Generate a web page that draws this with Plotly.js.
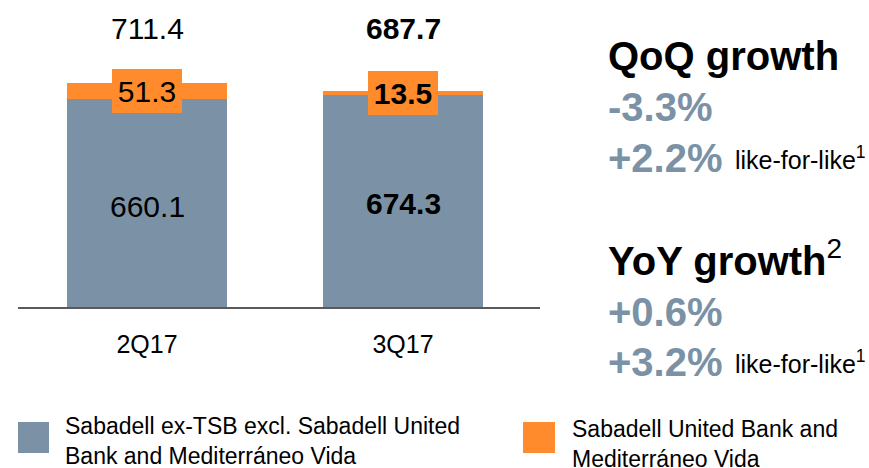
<!DOCTYPE html>
<html>
<head>
<meta charset="utf-8">
<script src="https://cdn.plot.ly/plotly-3.0.1.min.js"></script>
<style>html,body{margin:0;padding:0;background:#fff;}#chart{width:869px;height:468px;}</style>
</head>
<body>
<div id="chart"></div>
<script>
// ---- data ----
var categories = ['2Q17', '3Q17'];
var seriesNames = [
  'Sabadell ex-TSB excl. Sabadell United<br>Bank and Mediterráneo Vida',
  'Sabadell United Bank and<br>Mediterráneo Vida'
];
var baseValues = [660.1, 674.3];      // Sabadell ex-TSB excl. SUB & MedVida
var subValues = [51.3, 13.5];         // Sabadell United Bank & Mediterráneo Vida
var totalLabels = ['711.4', '687.7'];
var boldCategory = [false, true];
var qoqHeader = 'QoQ growth';
var qoqValues = ['-3.3%', '+2.2%'];
var yoyHeader = 'YoY growth';
var yoyValues = ['+0.6%', '+3.2%'];
var likeForLike = 'like-for-like';

// ---- style ----
var BLUE = '#7b91a5';
var ORANGE = '#ff8b2c';
var FONT = 'Liberation Sans, Arial, sans-serif';

var W = 869, H = 468;
var L = 18, R = 540, T = 0, B = 307;
function px(x) { return (x - L) / (R - L); }
function py(y) { return (B - y) / (B - T); }

var traces = [
  {type: 'bar', x: categories, y: baseValues, name: seriesNames[0],
   marker: {color: BLUE, line: {width: 0}}, width: 0.625, hoverinfo: 'none'},
  {type: 'bar', x: categories, y: subValues, name: seriesNames[1],
   marker: {color: ORANGE, line: {width: 0}}, width: 0.625, hoverinfo: 'none'}
];

function fmt(v, b) { var s = v.toFixed(1); return b ? '<b>' + s + '</b>' : s; }

var ann = [];
categories.forEach(function (c, i) {
  var b = boldCategory[i];
  // totals
  ann.push({x: c, xref: 'x', y: py(28), yref: 'paper', text: b ? '<b>' + totalLabels[i] + '</b>' : totalLabels[i],
    showarrow: false, xanchor: 'center', yanchor: 'middle', font: {family: FONT, size: 30, color: '#000'}});
  // base segment label
  ann.push({x: c, xref: 'x', y: baseValues[i] / 2, yref: 'y', yshift: -3, text: fmt(baseValues[i], b),
    showarrow: false, xanchor: 'center', yanchor: 'middle', font: {family: FONT, size: 30, color: '#000'}});
  // orange segment label with box
  ann.push({x: c, xref: 'x', y: baseValues[i] + subValues[i] / 2, yref: 'y', text: fmt(subValues[i], b),
    showarrow: false, xanchor: 'center', yanchor: 'middle', bgcolor: ORANGE, borderpad: 0, borderwidth: 0,
    width: 70, height: 44, font: {family: FONT, size: 30, color: '#000'}});
});

// right panel
function txt(x, y, t, size, color) {
  return {x: px(x), xref: 'paper', y: py(y), yref: 'paper', text: t, showarrow: false,
    xanchor: 'left', yanchor: 'middle', align: 'left', font: {family: FONT, size: size, color: color}};
}
ann.push(txt(606, 56, '<b>' + qoqHeader + '</b>', 40, '#000'));
ann.push(txt(606, 107, '<b>' + qoqValues[0] + '</b>', 40, BLUE));
ann.push(txt(606, 158, '<b>' + qoqValues[1] + '</b>', 40, BLUE));
ann.push(txt(733, 158, likeForLike + '<sup>1</sup>', 25, '#000'));
ann.push(txt(606, 258, '<b>' + yoyHeader + '</b><sup>2</sup>', 40, '#000'));
ann.push(txt(606, 312, '<b>' + yoyValues[0] + '</b>', 40, BLUE));
ann.push(txt(606, 362, '<b>' + yoyValues[1] + '</b>', 40, BLUE));
ann.push(txt(733, 362, likeForLike + '<sup>1</sup>', 25, '#000'));

// legend
var shapes = [
  {type: 'rect', xref: 'paper', yref: 'paper', x0: px(18), x1: px(49), y0: py(422), y1: py(453), fillcolor: BLUE, line: {width: 0}},
  {type: 'rect', xref: 'paper', yref: 'paper', x0: px(523), x1: px(555), y0: py(422), y1: py(453), fillcolor: ORANGE, line: {width: 0}}
];
ann.push(txt(63, 441, seriesNames[0], 23, '#000'));
ann.push(txt(570, 444, seriesNames[1], 23, '#000'));

var layout = {
  width: W, height: H,
  margin: {l: L, r: W - R, t: T, b: H - B, pad: 0},
  paper_bgcolor: '#fff', plot_bgcolor: '#fff',
  barmode: 'stack', bargap: 0,
  showlegend: false,
  xaxis: {type: 'category', range: [-0.504, 1.535], showgrid: false, zeroline: false,
    showline: true, linecolor: '#5a5a5a', linewidth: 1.5,
    ticks: 'outside', ticklen: 1, tickcolor: 'rgba(0,0,0,0)', ticklabelstandoff: 13,
    tickfont: {family: FONT, size: 25, color: '#000'}, fixedrange: true},
  yaxis: {range: [0, 976], visible: false, showgrid: false, zeroline: false, fixedrange: true},
  annotations: ann,
  shapes: shapes,
  font: {family: FONT}
};

Plotly.newPlot('chart', traces, layout, {displayModeBar: false, staticPlot: true});
</script>
</body>
</html>
